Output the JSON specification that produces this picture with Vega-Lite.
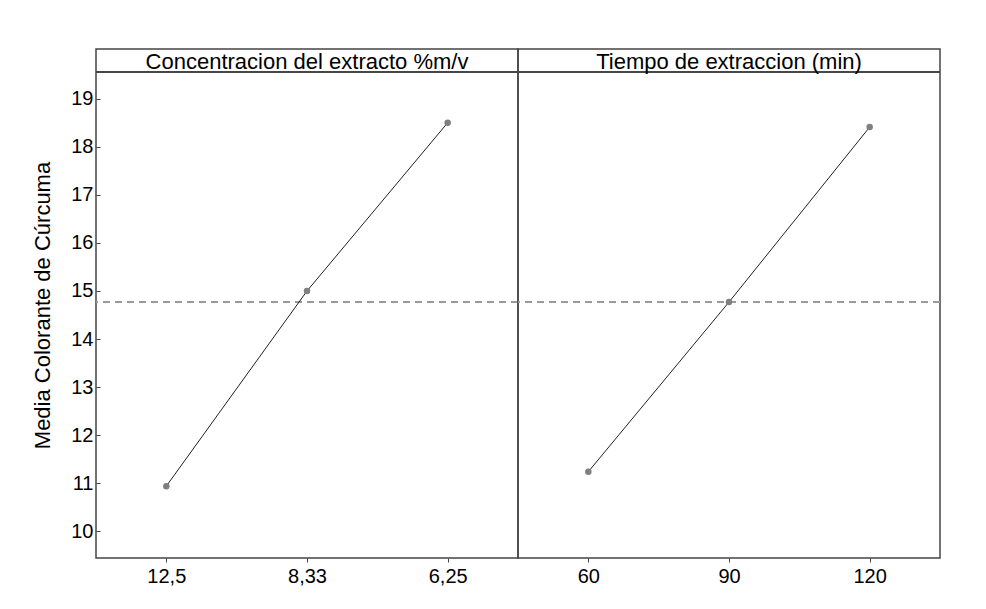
{
  "$schema": "https://vega.github.io/schema/vega-lite/v6.json",
  "padding": {"left": 31, "top": 48, "right": 0, "bottom": 0},
  "background": "white",
  "bounds": "flush",
  "config": {
    "font": "Liberation Sans",
    "view": {"stroke": "#444444", "strokeWidth": 1.5},
    "axis": {"labelColor": "black", "labelFont": "Liberation Sans", "titleFont": "Liberation Sans", "tickColor": "#444444"}
  },
  "data": {
    "values": [
      {"factor": "Concentracion del extracto %m/v", "level": "12,5", "order": 1, "value": 10.94},
      {"factor": "Concentracion del extracto %m/v", "level": "8,33", "order": 2, "value": 15.0},
      {"factor": "Concentracion del extracto %m/v", "level": "6,25", "order": 3, "value": 18.5},
      {"factor": "Tiempo de extraccion (min)", "level": "60", "order": 1, "value": 11.24},
      {"factor": "Tiempo de extraccion (min)", "level": "90", "order": 2, "value": 14.77},
      {"factor": "Tiempo de extraccion (min)", "level": "120", "order": 3, "value": 18.41}
    ]
  },
  "facet": {
    "column": {
      "field": "factor",
      "type": "nominal",
      "sort": ["Concentracion del extracto %m/v", "Tiempo de extraccion (min)"],
      "header": {"title": null, "labels": false}
    }
  },
  "spacing": 0,
  "resolve": {"scale": {"x": "independent"}},
  "spec": {
    "width": 422,
    "height": 509,
    "layer": [
      {
        "mark": {"type": "rule", "color": "#9a9a9a", "strokeDash": [7, 5], "strokeWidth": 2},
        "encoding": {"y": {"datum": 14.77, "type": "quantitative", "title": "Media Colorante de Cúrcuma"}}
      },
      {
        "mark": {"type": "rule", "color": "#444444", "strokeWidth": 1.5},
        "encoding": {"y": {"datum": 19.555, "type": "quantitative", "title": "Media Colorante de Cúrcuma"}}
      },
      {
        "mark": {"type": "line", "color": "#222222", "strokeWidth": 1},
        "encoding": {
          "x": {
            "field": "level", "type": "nominal", "sort": {"field": "order"},
            "scale": {"type": "point", "padding": 0.5},
            "axis": {"title": null, "labelAngle": 0, "labelFontSize": 20, "tickSize": 4, "domain": false, "labelPadding": 4, "labelColor": "black"}
          },
          "y": {
            "field": "value", "type": "quantitative",
            "title": "Media Colorante de Cúrcuma",
            "scale": {"domain": [9.445, 20.034], "nice": false, "zero": false},
            "axis": {
              "values": [10, 11, 12, 13, 14, 15, 16, 17, 18, 19],
              "grid": false, "domain": false, "tickSize": -4, "labelPadding": 7,
              "labelFontSize": 20, "titleFontSize": 22, "titleFontWeight": "normal",
              "titleColor": "black", "titleX": -54, "titleY": 256, "titleBaseline": "middle", "titleAngle": -90
            }
          }
        }
      },
      {
        "mark": {"type": "circle", "color": "#808080", "opacity": 1, "size": 42},
        "encoding": {
          "x": {"field": "level", "type": "nominal", "sort": {"field": "order"}},
          "y": {"field": "value", "type": "quantitative", "title": "Media Colorante de Cúrcuma"}
        }
      },
      {
        "transform": [{"filter": "datum.order == 2"}],
        "mark": {"type": "text", "fontSize": 22, "color": "black", "baseline": "middle", "align": "center", "font": "Liberation Sans", "dy": 1},
        "encoding": {
          "x": {"field": "level", "type": "nominal", "sort": {"field": "order"}},
          "y": {"datum": 19.79, "type": "quantitative", "title": "Media Colorante de Cúrcuma"},
          "text": {"field": "factor"}
        }
      }
    ]
  }
}
